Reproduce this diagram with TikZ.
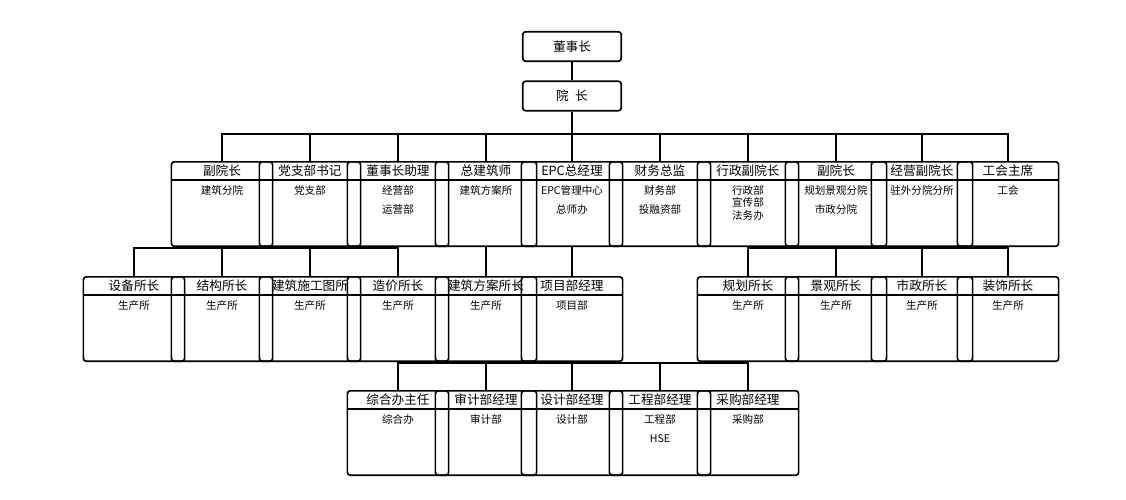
\documentclass[tikz,border=0pt]{standalone}
\usepackage{fontspec}
\setmainfont{Noto Sans CJK SC}
\usetikzlibrary{positioning, calc}
\tikzstyle{box} = [draw, line width=1.2pt, rounded corners=2pt,
    minimum width=72, minimum height=60, inner sep=0]
\tikzstyle{head} = [draw, line width=1.2pt, rounded corners=2pt,
    minimum width=70, minimum height=21, inner sep=0, font=\fontsize{9}{10}\selectfont]
\tikzstyle{title} = [inner sep=0, font=\fontsize{9}{10}\selectfont]
\tikzstyle{body} = [inner sep=0, align=center, font=\fontsize{7.5}{13.5}\selectfont]
\tikzstyle{wire} = [line width=1.1pt]
% one unit: box with title row and body
\newcommand{\unit}[5]{%
  \node[box, anchor=north] (#1) at (#2,#3) {};
  \draw[line width=1pt] ($(#1.north west)+(0,19)$) -- ($(#1.north east)+(0,19)$);
  \node[title] (#1t) at ($(#1.north)+(0,9.5)$) {#4};
  \node[body, anchor=north] (#1b) at ($(#1.north)+(0,24)$) {#5};
}
\begin{document}
\begin{tikzpicture}[x=0.025cm, y=-0.025cm]
\useasboundingbox (0,0) rectangle (1126,500);

% top
\node[head] (dsz) at (572,46.5) {董事长};
\node[head] (yz) at (572,96) {院\enspace 长};
\draw[wire] (dsz) -- (yz);

%%% ROW 1
\unit{a1}{222}{161}{副院长}{建筑分院}
\unit{a2}{310}{161}{党支部书记}{党支部}
\unit{a3}{398}{161}{董事长助理}{经营部\\运营部}
\unit{a4}{486}{161}{总建筑师}{建筑方案所}
\unit{a5}{572}{161}{EPC总经理}{EPC管理中心\\总师办}
\unit{a6}{660}{161}{财务总监}{财务部\\投融资部}
\node[box, anchor=north] (a7) at (748,161) {};
\draw[line width=1pt] ($(a7.north west)+(0,19)$) -- ($(a7.north east)+(0,19)$);
\node[title] (a7t) at ($(a7.north)+(0,9.5)$) {行政副院长};
\node[body, anchor=north, font=\fontsize{7.5}{9}\selectfont] (a7b) at ($(a7.north)+(0,24)$) {行政部\\宣传部\\法务办};
\unit{a8}{836}{161}{副院长}{规划景观分院\\市政分院}
\unit{a9}{922}{161}{经营副院长}{驻外分院分所}
\unit{a10}{1008}{161}{工会主席}{工会}

\coordinate (bus1) at (0,134);
\draw[wire] (yz.south) -- (yz.south |- bus1);
\foreach \n in {a1,a2,a3,a4,a5,a6,a7,a8,a9,a10}
  \draw[wire] (yz.south |- bus1) -| (\n.north);

%%% ROW 2
\unit{b1}{134}{276}{设备所长}{生产所}
\unit{b2}{222}{276}{结构所长}{生产所}
\unit{b3}{310}{276}{建筑施工图所}{生产所}
\unit{b4}{398}{276}{造价所长}{生产所}
\unit{b5}{486}{276}{建筑方案所长}{生产所}
\unit{b6}{572}{276}{项目部经理}{项目部}
\unit{b7}{748}{276}{规划所长}{生产所}
\unit{b8}{836}{276}{景观所长}{生产所}
\unit{b9}{922}{276}{市政所长}{生产所}
\unit{b10}{1008}{276}{装饰所长}{生产所}

\coordinate (bus2) at (0,248);
\draw[wire] (a1.south) -- (a1.south |- bus2);
\foreach \n in {b1,b2,b3,b4}
  \draw[wire] (a1.south |- bus2) -| (\n.north);
\draw[wire] (a4.south) -- (b5.north);
\draw[wire] (a5.south) -- (b6.north);
\draw[wire] (a8.south) -- (a8.south |- bus2);
\foreach \n in {b7,b8,b9,b10}
  \draw[wire] (a8.south |- bus2) -| (\n.north);

%%% ROW 3
\unit{c1}{398}{390}{综合办主任}{综合办}
\unit{c2}{486}{390}{审计部经理}{审计部}
\unit{c3}{572}{390}{设计部经理}{设计部}
\unit{c4}{660}{390}{工程部经理}{工程部\\HSE}
\unit{c5}{748}{390}{采购部经理}{采购部}

\coordinate (bus3) at (0,363);
\draw[wire] (b6.south) -- (b6.south |- bus3);
\foreach \n in {c1,c2,c3,c4,c5}
  \draw[wire] (b6.south |- bus3) -| (\n.north);

\end{tikzpicture}
\end{document}
